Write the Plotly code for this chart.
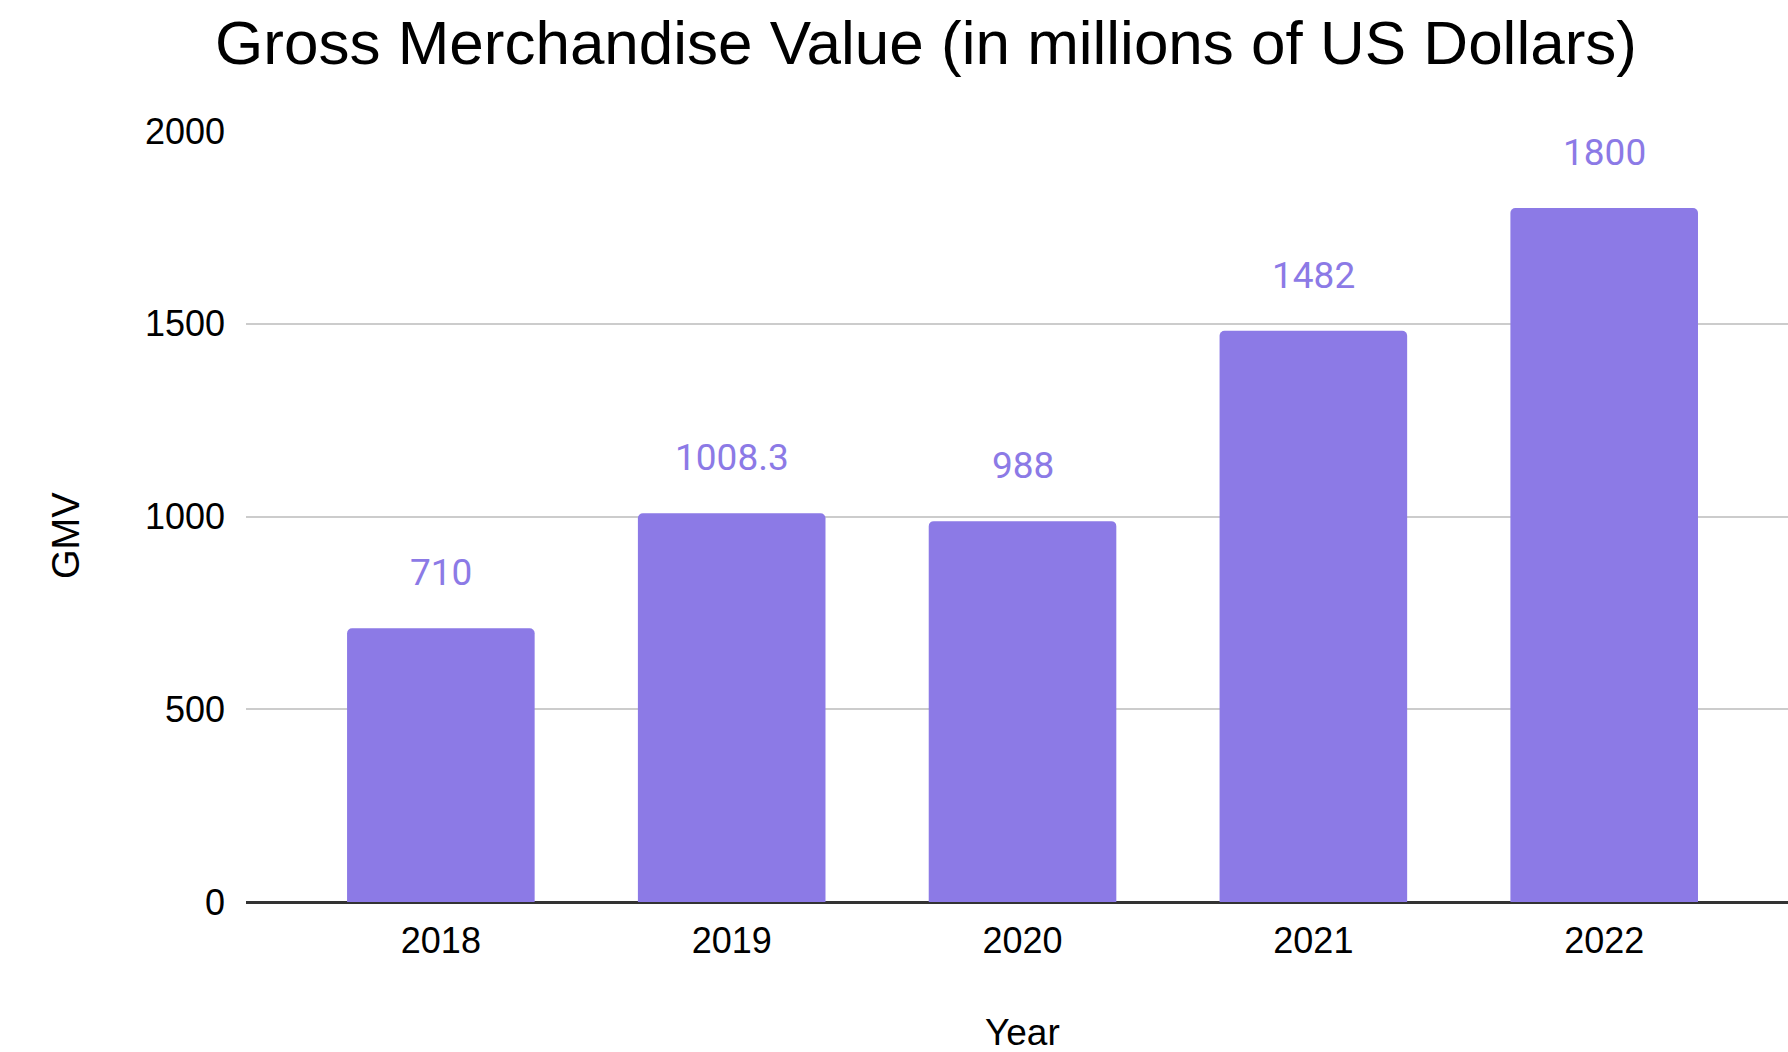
import plotly.graph_objects as go

# Gross merchandise value per year (millions of US dollars)
years = ["2018", "2019", "2020", "2021", "2022"]
gmv = [710, 1008.3, 988, 1482, 1800]
value_labels = ["710", "1008.3", "988", "1482", "1800"]
y_ticks = [0, 500, 1000, 1500, 2000]

BAR_COLOR = "#8c7ae6"
LABEL_COLOR = "#8c7ae6"
W, H = 1788, 1052

fig = go.Figure()
fig.add_trace(
    go.Bar(
        x=list(range(len(years))),
        y=gmv,
        width=0.645,
        marker=dict(color=BAR_COLOR, line=dict(width=0)),
        hoverinfo="skip",
    )
)

# value labels above each bar
for i, (v, t) in enumerate(zip(gmv, value_labels)):
    fig.add_annotation(
        x=i, y=v, text=t, showarrow=False,
        xanchor="center", yanchor="bottom", yshift=32,
        font=dict(family="Roboto", size=37, color=LABEL_COLOR),
    )

# axis titles
fig.add_annotation(
    text="GMV", textangle=-90, showarrow=False,
    xref="paper", yref="paper", xanchor="center", yanchor="middle",
    x=(66 - 246) / (W - 246), y=(902 - 536) / (902 - 131),
    font=dict(family="Liberation Sans, Arial", size=38, color="#000000"),
)
fig.add_annotation(
    text="Year", showarrow=False,
    xref="x", yref="paper", xanchor="center", yanchor="middle",
    x=2, y=(902 - 1032) / (902 - 131),
    font=dict(family="Liberation Sans, Arial", size=37, color="#000000"),
)

fig.update_layout(
    width=W,
    height=H,
    margin=dict(l=246, r=0, t=131, b=150),
    paper_bgcolor="white",
    plot_bgcolor="white",
    showlegend=False,
    barcornerradius=5,
    title=dict(
        text="Gross Merchandise Value (in millions of US Dollars)",
        x=926 / W, xanchor="center", xref="container",
        y=1 - 42 / H, yanchor="middle", yref="container",
        font=dict(family="Liberation Sans, Arial", size=62, color="#000000"),
    ),
    font=dict(family="Liberation Sans, Arial", color="#000000"),
)

fig.update_xaxes(
    range=[-0.67, 4.632],
    tickmode="array",
    tickvals=list(range(len(years))),
    ticktext=years,
    tickfont=dict(size=36, color="#000000"),
    showgrid=False,
    showline=False,
    zeroline=False,
    ticks="",
    ticklabelstandoff=14,
)

fig.update_yaxes(
    range=[0, 2000],
    tickmode="array",
    tickvals=y_ticks,
    ticktext=[str(v) for v in y_ticks],
    tickfont=dict(size=36, color="#000000"),
    showgrid=True,
    gridcolor="#cccccc",
    gridwidth=2,
    zeroline=True,
    zerolinecolor="#333333",
    zerolinewidth=2.5,
    showline=False,
    ticks="",
    ticklabelstandoff=20,
)

fig.write_html("out.html")
